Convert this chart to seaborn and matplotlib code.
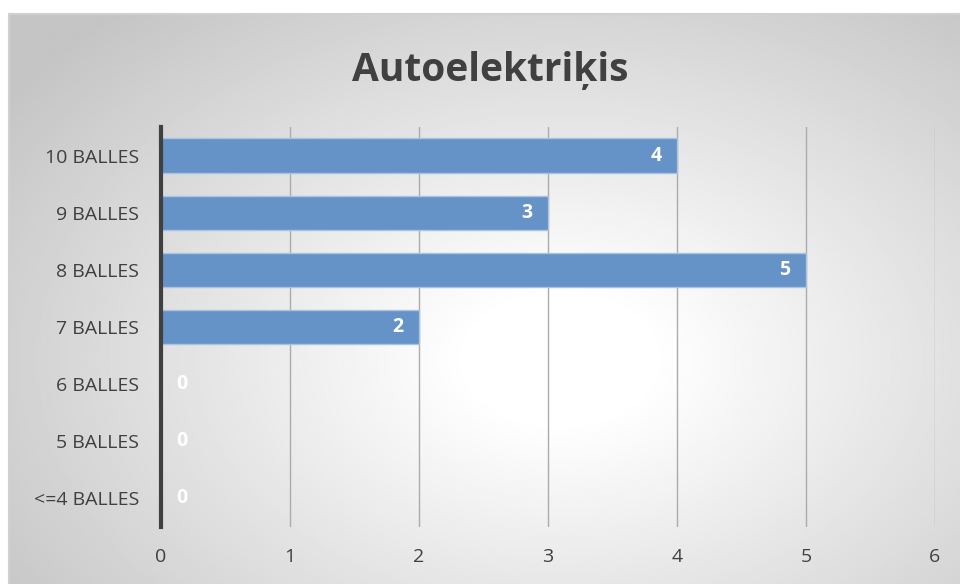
import numpy as np
import matplotlib
matplotlib.use('Agg')
import matplotlib.pyplot as plt
import seaborn as sns
import pandas as pd

categories = ['10 BALLES', '9 BALLES', '8 BALLES', '7 BALLES', '6 BALLES', '5 BALLES', '<=4 BALLES']
values = [4, 3, 5, 2, 0, 0, 0]
title = 'Autoelektriķis'

sns.set_style('white')
plt.rcParams['font.family'] = ['Open Sans', 'DejaVu Sans']

df = pd.DataFrame({'cat': categories, 'val': values})

W, H = 960, 584
fig = plt.figure(figsize=(W / 100, H / 100), dpi=100)
fig.patch.set_facecolor('white')

# radial gradient background of the chart area
bg = fig.add_axes([9 / W, 0, 1 - 9 / W, (H - 14) / H], zorder=-10)
gx, gy = np.meshgrid(np.linspace(9, W, 400), np.linspace(14, H, 300))
r = np.sqrt(((gx - 560) / 620) ** 2 + ((gy - 360) / 420) ** 2)
shade = 1.0 - 0.23 * np.clip(r - 0.15, 0, None) / 0.95
shade = np.clip(shade, 0.77, 1.0)
bg.imshow(shade, cmap='gray', vmin=0, vmax=1, aspect='auto', extent=[0, 1, 0, 1], interpolation='bilinear')
bg.set_axis_off()
fig.add_artist(plt.Line2D([9 / W, 1], [(H - 14) / H, (H - 14) / H], color='#d0d0d0', lw=1.5))
fig.add_artist(plt.Line2D([9 / W, 9 / W], [0, (H - 14) / H], color='#d0d0d0', lw=1.5))

ax = fig.add_axes([161 / W, 57 / H, 774 / W, 400 / H])
ax.patch.set_alpha(0)
sns.barplot(data=df, x='val', y='cat', orient='h', color='#6592c7', saturation=1,
            width=0.6, edgecolor='#a9c3e3', linewidth=1, ax=ax, zorder=3)

ax.set_xlim(0, 6)
ax.set_xticks(range(0, 7))
ax.grid(axis='x', color='#ababab', lw=1, zorder=0)
ax.set_axisbelow(True)
for s in ['top', 'right', 'bottom']:
    ax.spines[s].set_visible(False)
ax.spines['left'].set_color('#404040')
ax.spines['left'].set_linewidth(3)
ax.spines['left'].set_zorder(5)
ax.set_xlabel('')
ax.set_ylabel('')
ax.tick_params(axis='both', length=0, labelsize=14, labelcolor='#404040')
ax.tick_params(axis='x', pad=15)
ax.tick_params(axis='y', pad=16)

for p, v in zip(ax.patches, values):
    yc = p.get_y() + p.get_height() / 2
    if v > 0:
        ax.text(p.get_width() - 0.12, yc, str(v), ha='right', va='center',
                color='white', fontsize=14, fontweight='bold', zorder=6)
    else:
        ax.text(0.12, yc, str(v), ha='left', va='center',
                color='white', fontsize=14, fontweight='bold', zorder=6)

fig.text(490 / W, 1 - 70 / H, title, ha='center', va='center', fontsize=28,
         fontweight='bold', color='#404040')

fig.savefig('out.png', dpi=100)
